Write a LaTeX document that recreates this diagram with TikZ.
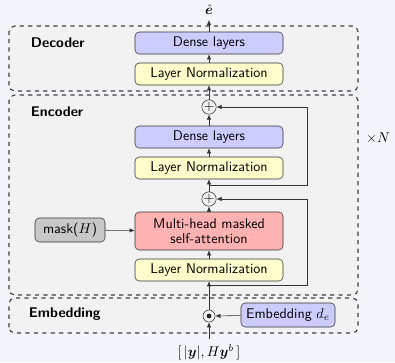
\documentclass[tikz,border=0pt]{standalone}
\usepackage{tikz}
\usetikzlibrary{positioning, arrows.meta}
\usepackage{amsmath}
\usepackage{bm}
\renewcommand{\familydefault}{\sfdefault}

\definecolor{bgcol}{RGB}{242,245,250}
\definecolor{groupcol}{RGB}{242,242,242}
\definecolor{densecol}{RGB}{204,204,255}
\definecolor{normcol}{RGB}{255,255,204}
\definecolor{attncol}{RGB}{255,178,178}
\definecolor{maskcol}{RGB}{200,200,200}

\tikzset{
  layerbox/.style={draw=black!80, rounded corners=3pt, minimum width=3.7cm, minimum height=0.55cm, inner sep=1pt, font=\normalsize},
  sidebox/.style={draw=black!80, rounded corners=3pt, minimum height=0.6cm, inner sep=3pt, font=\normalsize},
  groupbox/.style={draw=black!75, dashed, rounded corners=4pt, fill=groupcol, thick},
  grouplabel/.style={anchor=west, font=\normalsize\bfseries},
  sumnode/.style={draw=black!80, circle, minimum size=0.3cm, inner sep=0pt},
  conn/.style={->, draw=black!80, >={Latex[length=1.3mm,width=1.1mm]}}
}

\begin{document}
\begin{tikzpicture}
    \fill[bgcol] (0,0) rectangle (9.875,9.05);
    \useasboundingbox (0,0) rectangle (9.875,9.05);

    % groups
    \draw[groupbox] (0.225,6.775) rectangle (8.95,8.4);
    \draw[groupbox] (0.225,1.675) rectangle (8.95,6.675);
    \draw[groupbox] (0.225,0.725) rectangle (8.95,1.6);
    \node[grouplabel] (declab) at (0.65,7.99) {Decoder};
    \node[grouplabel] (enclab) at (0.65,6.27) {Encoder};
    \node[grouplabel] (emblab) at (0.6,1.2) {Embedding};

    % decoder
    \node[layerbox, fill=densecol] (dense1) at (5.225,7.975) {Dense layers};
    \node[layerbox, fill=normcol] (norm1) at (5.225,7.2) {Layer Normalization};
    \node (out) at (5.225,8.8) {$\hat{\bm{e}}$};

    % encoder
    \node[sumnode] (sum1) at (5.225,6.375) {$+$};
    \node[layerbox, fill=densecol] (dense2) at (5.225,5.625) {Dense layers};
    \node[layerbox, fill=normcol] (norm2) at (5.225,4.85) {Layer Normalization};
    \node[sumnode] (sum2) at (5.225,4.075) {$+$};
    \node[layerbox, fill=attncol, minimum height=0.95cm, align=center] (attn) at (5.225,3.275) {Multi-head masked\\[-1pt]self-attention};
    \node[layerbox, fill=normcol] (norm3) at (5.225,2.3) {Layer Normalization};
    \node[sidebox, fill=maskcol, minimum width=1.75cm] (mask) at (1.75,3.3) {mask($H$)};
    \node (rep) at (9.45,5.6) {$\times N$};

    % embedding
    \node[sumnode] (prod) at (5.225,1.15) {};
    \fill[black!85] (prod.center) circle (0.06);
    \node[sidebox, fill=densecol, minimum width=2.35cm] (embd) at (7.2,1.175) {Embedding $d_e$};
    \node (inp) at (5.225,0.25) {$[\,|\bm{y}|, H\bm{y}^b\,]$};

    % skip points
    \coordinate (br1) at (5.225,4.425);
    \coordinate (br2) at (5.225,1.925);

    % main path
    \draw[conn] (inp) -- (prod);
    \draw[conn] (prod) -- (norm3);
    \draw[conn] (norm3) -- (attn);
    \draw[conn] (attn) -- (sum2);
    \draw[conn] (sum2) -- (norm2);
    \draw[conn] (norm2) -- (dense2);
    \draw[conn] (dense2) -- (sum1);
    \draw[conn] (sum1) -- (norm1);
    \draw[conn] (norm1) -- (dense1);
    \draw[conn] (dense1) -- (out);
    \draw[conn] (mask) -- (attn);
    \draw[conn] (embd) -- (prod);

    % residuals
    \draw[conn] (br1) -| (7.675,6.375) -- (sum1);
    \draw[conn] (br2) -| (7.675,4.075) -- (sum2);
\end{tikzpicture}
\end{document}
